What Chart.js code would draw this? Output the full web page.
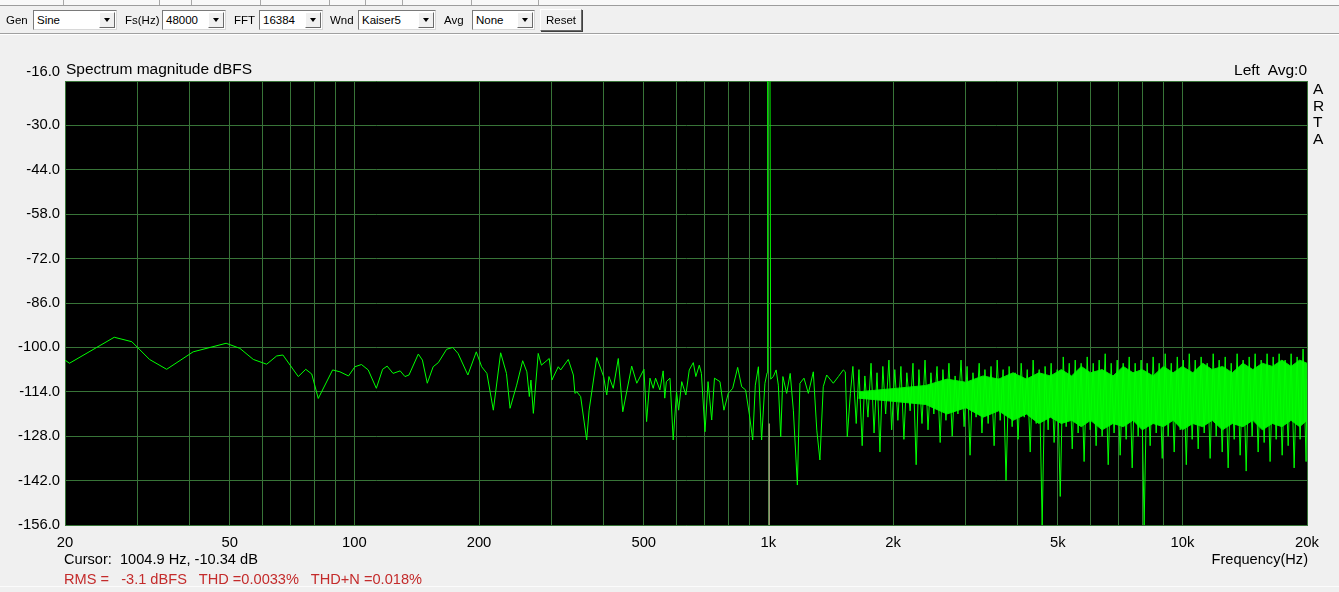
<!DOCTYPE html>
<html>
<head>
<meta charset="utf-8">
<script src="https://cdn.jsdelivr.net/npm/chart.js@4.4.1/dist/chart.umd.min.js"></script>
<style>
  html, body { margin: 0; padding: 0; }
  body { width: 1339px; height: 592px; background: #f0f0f0; position: relative; overflow: hidden;
         font-family: 'Liberation Sans', Arial, sans-serif; }
  #spectrum { position: absolute; left: 0; top: 0; }
  .strip { position: absolute; left: 0; top: 0; width: 1339px; height: 5px; background: #f8f8f8; border-bottom: 1px solid #9c9c9c; }
  .tab { position: absolute; top: 0; width: 1px; height: 5px; background: #a8a8a8; }
  .lbl { position: absolute; top: 13px; font-size: 11.5px; line-height: 14px; color: #000; white-space: pre; }
  .combo { position: absolute; top: 10px; height: 18px; background: #fff; border: 1px solid;
           border-color: #7a7a7a #d8d8d8 #d8d8d8 #7a7a7a; font-size: 11.5px; line-height: 18px; padding-left: 3px; }
  .combo .arr { position: absolute; right: 1px; top: 1px; width: 14px; height: 14px; background: #f0f0f0; border: 1px solid;
                border-color: #fff #6a6a6a #6a6a6a #fff; }
  .combo .arr::after { content: ''; position: absolute; left: 4px; top: 5px; border-left: 3px solid transparent;
                       border-right: 3px solid transparent; border-top: 4px solid #000; }
  .btn { position: absolute; left: 540px; top: 9px; width: 40px; height: 20px; background: #f0f0f0; border: 1px solid;
         border-color: #fff #6a6a6a #6a6a6a #fff; box-shadow: 1px 1px 0 #404040; font-size: 11.5px; line-height: 20px; text-align: center; }
  .sep { position: absolute; left: 0; top: 33px; width: 1339px; height: 1px; background: #a0a0a0; border-bottom: 1px solid #fff; }
  .foot { position: absolute; left: 0; top: 586px; width: 1339px; height: 1px; background: #fbfbfb; }
  .txt { position: absolute; white-space: pre; color: #000; }
</style>
</head>
<body>
<canvas id="spectrum" width="1339" height="592"></canvas>

<div class="strip">
  <div class="tab" style="left:63px"></div><div class="tab" style="left:159px"></div>
  <div class="tab" style="left:191px"></div><div class="tab" style="left:260px"></div>
  <div class="tab" style="left:329px"></div><div class="tab" style="left:365px"></div>
  <div class="tab" style="left:402px"></div><div class="tab" style="left:471px"></div>
  <div class="tab" style="left:538px"></div>
</div>

<div class="lbl" style="left:6px">Gen</div>
<div class="combo" style="left:33px;width:79px">Sine<div class="arr"></div></div>
<div class="lbl" style="left:125px">Fs(Hz)</div>
<div class="combo" style="left:162px;width:59px">48000<div class="arr"></div></div>
<div class="lbl" style="left:234px">FFT</div>
<div class="combo" style="left:259px;width:59px">16384<div class="arr"></div></div>
<div class="lbl" style="left:330px">Wnd</div>
<div class="combo" style="left:358px;width:73px">Kaiser5<div class="arr"></div></div>
<div class="lbl" style="left:444px">Avg</div>
<div class="combo" style="left:472px;width:58px">None<div class="arr"></div></div>
<div class="btn">Reset</div>
<div class="sep"></div>

<div class="txt" style="left:66px;top:61px;font-size:15.5px;line-height:15.5px">Spectrum magnitude dBFS</div>
<div class="txt" style="right:32px;top:62px;font-size:15.5px;line-height:15.5px">Left  Avg:0</div>
<div class="txt" style="left:1313px;top:81px;font-size:15.5px;line-height:16.5px">A<br>R<br>T<br>A</div>
<div class="txt" style="left:64px;top:552px;font-size:14.6px;line-height:14.6px">Cursor:  1004.9 Hz, -10.34 dB</div>
<div class="txt" style="right:31px;top:552px;font-size:14.6px;line-height:14.6px">Frequency(Hz)</div>
<div class="txt" style="left:64px;top:572px;font-size:14.6px;line-height:14.6px;color:#c42b2b">RMS =   -3.1 dBFS   THD =0.0033%   THD+N =0.018%</div>
<div class="foot"></div>

<script>
// smooth low / mid band, read bin by bin (Hz, dBFS); includes the 1 kHz tone
const lowFreq = [
  20, 20.5, 26.3, 29, 32, 35.2, 40.8, 49, 52.9, 57,
  61.4, 64.9, 67.2, 73.2, 76.3, 78.9, 81.8, 88.6, 92.3, 96.8,
  100.3, 104, 108, 113, 117, 120, 124, 129, 132.5, 135.5,
  142.7, 146, 150, 155, 159.5, 167, 172.8, 178, 188, 197,
  203, 209, 216.6, 225.6, 233, 237.7, 246.6, 255, 261, 264.6,
  267, 270.6, 278, 283, 295.6, 300, 310.8, 315, 328.6, 338,
  341, 344.6, 352, 364, 369, 385, 400, 407, 412, 422,
  434, 445, 467.6, 481, 500.6, 508, 517.6, 527, 534, 547,
  557, 562, 567, 578.6, 589, 600, 607, 617.6, 632, 644,
  658.6, 668, 681, 689, 703, 715, 729.6, 741, 764, 781,
  800, 820, 843, 862, 881, 900, 916.6, 930, 946, 963,
  981, 993, 996, 1004.9, 1009, 1013, 1028, 1044,
  1057, 1071, 1084, 1107, 1129, 1149, 1175, 1192, 1219, 1249,
  1284, 1309, 1332, 1357, 1383, 1435, 1476, 1517, 1534, 1551,
  1578
];
const lowDb = [
  -104.0, -105.0, -96.8, -98.2, -103.8, -106.9, -101.4, -98.7, -100.3, -103.8,
  -105.3, -102.7, -102.4, -109.2, -106.9, -108.4, -116.1, -107.1, -107.7, -109.0,
  -106.1, -105.4, -107.1, -112.9, -106.9, -105.9, -108.2, -107.4, -109.2, -108.7,
  -102.1, -104.0, -111.3, -106.1, -104.8, -100.6, -100.0, -101.9, -108.7, -101.4,
  -106.1, -108.2, -119.8, -101.7, -108.2, -119.2, -111.9, -104.2, -107.7, -115.5,
  -110.3, -120.8, -101.9, -105.6, -103.5, -110.3, -106.1, -107.1, -103.8, -108.7,
  -114.5, -114.0, -115.5, -129.2, -119.8, -103.2, -109.2, -115.0, -109.2, -112.9,
  -103.5, -120.3, -105.9, -111.3, -106.9, -123.4, -109.7, -112.9, -109.7, -113.4,
  -107.4, -116.0, -110.8, -109.7, -129.2, -114.0, -119.8, -110.8, -115.0, -107.1,
  -104.8, -109.2, -105.6, -108.2, -126.6, -110.8, -122.9, -109.7, -110.8, -119.8,
  -114.5, -112.9, -106.3, -112.4, -113.4, -121.3, -129.2, -111.9, -106.1, -129.2,
  -111.3, -108.0, -14.0, -10.34, -14.0, -110.0, -109.2, -107.1,
  -111.9, -128.2, -109.2, -114.5, -108.2, -119.8, -143.4, -111.3, -109.7, -114.5,
  -107.7, -126.1, -135.5, -112.4, -108.7, -111.3, -109.2, -107.1, -107.7, -128.2,
  -114.5
];

// dense noise floor above 1.6 kHz: alternating peak / dip readings
const hfFreq = [
  1600, 1630, 1655, 1685, 1710, 1740, 1770, 1800, 1830, 1860,
  1890, 1920, 1955, 1985, 2020, 2055, 2090, 2125, 2160, 2200,
  2235, 2275, 2310, 2350, 2390, 2430, 2470, 2510, 2555, 2600,
  2640, 2685, 2730, 2780, 2825, 2870, 2920, 2970, 3020, 3070,
  3120, 3175, 3230, 3280, 3335, 3395, 3450, 3510, 3570, 3630,
  3690, 3750, 3815, 3880, 3945, 4010, 4080, 4150, 4220, 4290,
  4360, 4435, 4510, 4585, 4660, 4740, 4820, 4900, 4985, 5070,
  5155, 5240, 5330, 5420, 5510, 5600, 5695, 5790, 5890, 5990,
  6090, 6190, 6295, 6400, 6510, 6620, 6730, 6840, 6960, 7075,
  7195, 7315, 7440, 7565, 7690, 7820, 7950, 8085, 8220, 8360,
  8500, 8645, 8790, 8940, 9090, 9240, 9400, 9555, 9720, 9880,
  10050, 10220, 10390, 10560, 10740, 10920, 11100, 11290, 11480, 11670,
  11870, 12070, 12270, 12480, 12690, 12900, 13120, 13340, 13560, 13790,
  14020, 14260, 14500, 14740, 14990, 15240, 15500, 15760, 16020, 16290,
  16570, 16850, 17130, 17420, 17710, 18010, 18310, 18620, 18930, 19250,
  19570, 19900, 20000
];
const hfDb = [
  -106, -124, -107, -131, -109, -122, -105, -127, -108, -133,
  -106, -121, -104, -126, -107, -123, -106, -129, -108, -120,
  -105, -137, -107, -124, -104, -126, -108, -121, -106, -130,
  -107, -123, -105, -128, -109, -121, -104, -125, -106, -134,
  -108, -122, -105, -127, -107, -124, -106, -131, -104, -123,
  -107, -142, -106, -125, -108, -129, -105, -122, -107, -133,
  -104, -124, -107, -156, -106, -126, -105, -130, -107, -147,
  -103, -125, -105, -132, -104, -127, -105, -136, -103, -126,
  -105, -131, -104, -128, -102, -137, -105, -127, -104, -134,
  -105, -129, -103, -138, -105, -128, -104, -156, -105, -131,
  -103, -127, -105, -135, -102, -128, -105, -133, -103, -126,
  -104, -137, -102, -129, -104, -132, -103, -127, -105, -135,
  -102, -128, -104, -133, -103, -138, -105, -129, -102, -134,
  -104, -139, -103, -128, -102, -133, -104, -130, -102, -136,
  -103, -129, -102, -134, -104, -131, -102, -138, -103, -129,
  -100.5, -136, -110
];

// ragged solid core of the noise band
const bandFreq = [
  1650, 2000, 2400, 2700, 3000, 3300, 3600, 3900, 4200, 4500,
  4800, 5100, 5400, 5700, 6000, 6400, 6800, 7200, 7600, 8000,
  8500, 9000, 9500, 10000, 10600, 11200, 11800, 12500, 13200, 14000,
  14800, 15600, 16500, 17400, 18300, 19200, 20000
];
const bandTop = [
  -114, -113, -112, -110, -111, -109, -110, -108, -110, -108,
  -109, -107, -109, -106, -108, -107, -109, -106, -108, -107,
  -109, -106, -108, -106, -108, -105, -107, -106, -108, -105,
  -107, -105, -106, -104, -106, -104, -105
];
const bandBottom = [
  -116, -117, -118, -121, -119, -122, -120, -123, -121, -124,
  -122, -124, -123, -125, -123, -126, -124, -125, -123, -126,
  -124, -125, -123, -126, -124, -125, -123, -126, -124, -125,
  -123, -126, -124, -125, -123, -125, -123
];

// cursor marker
const cursorFreq = [1004.9, 1004.9];
const cursorDb = [-156, -124];

const xGrid = [20, 30, 40, 50, 60, 70, 80, 90, 100, 200, 300, 400, 500, 600, 700, 800, 900,
  1000, 2000, 3000, 4000, 5000, 6000, 7000, 8000, 9000, 10000, 20000];
const xLabels = { 20: '20', 50: '50', 100: '100', 200: '200', 500: '500',
  1000: '1k', 2000: '2k', 5000: '5k', 10000: '10k', 20000: '20k' };
const yTicks = [-156, -142, -128, -114, -100, -86, -72, -58, -44, -30, -16];

const toPoints = (xs, ys) => xs.map((x, i) => ({ x: x, y: ys[i] }));

const gridGreen = 'rgb(56,116,56)';
const tickFont = { family: 'Liberation Sans', size: 14.8 };

const blackPlot = {
  id: 'blackPlot',
  beforeDraw(chart) {
    const a = chart.chartArea;
    const ctx = chart.ctx;
    ctx.save();
    ctx.fillStyle = '#000';
    ctx.fillRect(a.left, a.top, a.right - a.left, a.bottom - a.top);
    ctx.restore();
  }
};

new Chart(document.getElementById('spectrum').getContext('2d'), {
  type: 'line',
  data: {
    datasets: [
      {
        data: toPoints(lowFreq.concat(hfFreq), lowDb.concat(hfDb)),
        borderColor: '#00ff00',
        borderWidth: 1,
        pointRadius: 0,
        tension: 0,
        fill: false
      },
      {
        data: toPoints(cursorFreq, cursorDb),
        borderColor: 'rgba(225,215,170,0.9)',
        borderWidth: 1,
        pointRadius: 0,
        fill: false
      },
      {
        data: toPoints(bandFreq, bandTop),
        borderWidth: 1,
        borderColor: '#00e600',
        backgroundColor: '#00f000',
        pointRadius: 0,
        fill: '+1'
      },
      {
        data: toPoints(bandFreq, bandBottom),
        borderWidth: 1,
        borderColor: '#00e600',
        pointRadius: 0,
        fill: false
      }
    ]
  },
  options: {
    responsive: false,
    animation: false,
    parsing: false,
    layout: { padding: { top: 81, right: 32, left: 0, bottom: 0 } },
    plugins: {
      legend: { display: false },
      tooltip: { enabled: false }
    },
    scales: {
      x: {
        type: 'logarithmic',
        min: 20,
        max: 20000,
        afterBuildTicks: (scale) => { scale.ticks = xGrid.map(v => ({ value: v })); },
        afterFit: (scale) => { scale.height = 67; },
        grid: { color: gridGreen, lineWidth: 1, drawTicks: false },
        border: { color: gridGreen },
        ticks: {
          autoSkip: false,
          maxRotation: 0,
          padding: 9,
          color: '#000',
          font: tickFont,
          callback: (v) => xLabels[v] || ''
        }
      },
      y: {
        min: -156,
        max: -16,
        afterBuildTicks: (scale) => { scale.ticks = yTicks.map(v => ({ value: v })); },
        afterFit: (scale) => { scale.width = 65; },
        grid: { color: gridGreen, lineWidth: 1, drawTicks: false },
        border: { color: gridGreen },
        ticks: {
          padding: 5,
          color: '#000',
          font: tickFont,
          callback: (v) => v === -16 ? [v.toFixed(1), ''] : v.toFixed(1)
        }
      }
    }
  },
  plugins: [blackPlot]
});
</script>
</body>
</html>
